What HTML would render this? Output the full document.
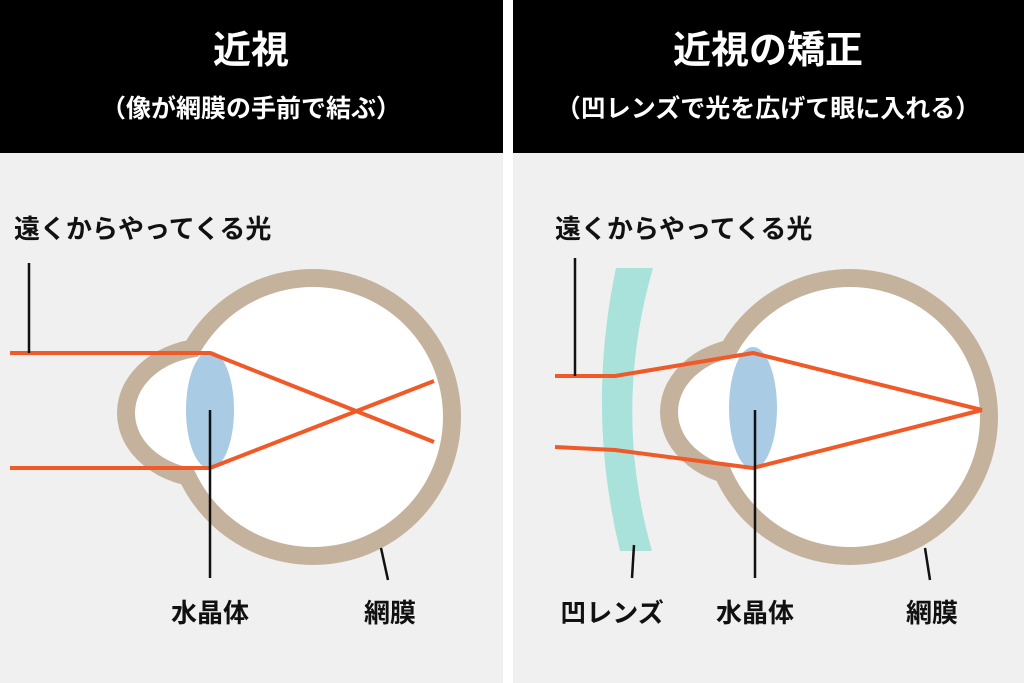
<!DOCTYPE html>
<html><head><meta charset="utf-8">
<style>
html,body{margin:0;padding:0;background:#fff;}
body{width:1024px;height:683px;position:relative;overflow:hidden;font-family:"Liberation Sans","Noto Sans CJK JP",sans-serif;}
svg{position:absolute;left:0;top:0;}
</style></head><body>
<svg width="1024" height="683" viewBox="0 0 1024 683" xmlns="http://www.w3.org/2000/svg" font-family="Liberation Sans, Noto Sans CJK JP, sans-serif">
  <rect x="0" y="0" width="1024" height="683" fill="#fff"/>
  <rect x="0" y="0" width="503" height="683" fill="#f0f0f0"/>
  <rect x="513" y="0" width="511" height="683" fill="#f0f0f0"/>
  <rect x="0" y="0" width="503" height="153" fill="#000"/>
  <rect x="513" y="0" width="511" height="153" fill="#000"/>
  <text x="251" y="63" fill="#fff" font-size="38" font-weight="bold" text-anchor="middle">近視</text>
  <text x="251" y="117" fill="#fff" font-size="25" font-weight="bold" text-anchor="middle">（像が網膜の手前で結ぶ）</text>
  <text x="768" y="63" fill="#fff" font-size="38" font-weight="bold" text-anchor="middle">近視の矯正</text>
  <text x="768" y="117" fill="#fff" font-size="25" font-weight="bold" text-anchor="middle">（凹レンズで光を広げて眼に入れる）</text>

  <!-- LEFT EYE -->
  <ellipse cx="210" cy="413" rx="93" ry="75" fill="#c4b29c"/>
  <circle cx="313" cy="417" r="148" fill="#c4b29c"/>
  <ellipse cx="210" cy="413" rx="75" ry="57" fill="#fff"/>
  <circle cx="313" cy="417" r="130" fill="#fff"/>
  <ellipse cx="210" cy="410" rx="24" ry="59" fill="#a9cbe4"/>
  <g stroke="#f05a28" stroke-width="4" fill="none" stroke-linejoin="round">
    <polyline points="10,353 210,353 434,442"/>
    <polyline points="10,468 210,468 434,381"/>
  </g>
  <g stroke="#111" stroke-width="2.5">
    <line x1="29" y1="263" x2="29" y2="353"/>
    <line x1="210" y1="410" x2="210" y2="578"/>
    <line x1="381" y1="548" x2="388" y2="580"/>
  </g>
  <text x="14" y="238" font-size="26" font-weight="bold" fill="#111">遠くからやってくる光</text>
  <text x="210" y="622" font-size="26" font-weight="bold" fill="#111" text-anchor="middle">水晶体</text>
  <text x="390" y="622" font-size="26" font-weight="bold" fill="#111" text-anchor="middle">網膜</text>

  <!-- RIGHT EYE -->
  <ellipse cx="753" cy="412" rx="93" ry="75" fill="#c4b29c"/>
  <circle cx="850" cy="417" r="148" fill="#c4b29c"/>
  <ellipse cx="753" cy="412" rx="75" ry="57" fill="#fff"/>
  <circle cx="850" cy="417" r="130" fill="#fff"/>
  <ellipse cx="753" cy="408" rx="24" ry="61" fill="#a9cbe4"/>
  <path d="M616,268 L653,268 Q612,410 652,551 L620,551 Q586,410 616,268 Z" fill="#a8e2da"/>
  <g stroke="#f05a28" stroke-width="4" fill="none" stroke-linejoin="round">
    <polyline points="555,376 615,376 753,353 982,410"/>
    <polyline points="555,447 615,450 753,468 982,410"/>
  </g>
  <g stroke="#111" stroke-width="2.5">
    <line x1="575" y1="258" x2="575" y2="376"/>
    <line x1="634" y1="545" x2="632" y2="578"/>
    <line x1="755" y1="410" x2="755" y2="578"/>
    <line x1="925" y1="548" x2="930" y2="580"/>
  </g>
  <text x="555" y="238" font-size="26" font-weight="bold" fill="#111">遠くからやってくる光</text>
  <text x="612" y="622" font-size="26" font-weight="bold" fill="#111" text-anchor="middle">凹レンズ</text>
  <text x="755" y="622" font-size="26" font-weight="bold" fill="#111" text-anchor="middle">水晶体</text>
  <text x="932" y="622" font-size="26" font-weight="bold" fill="#111" text-anchor="middle">網膜</text>
</svg>
</body></html>
